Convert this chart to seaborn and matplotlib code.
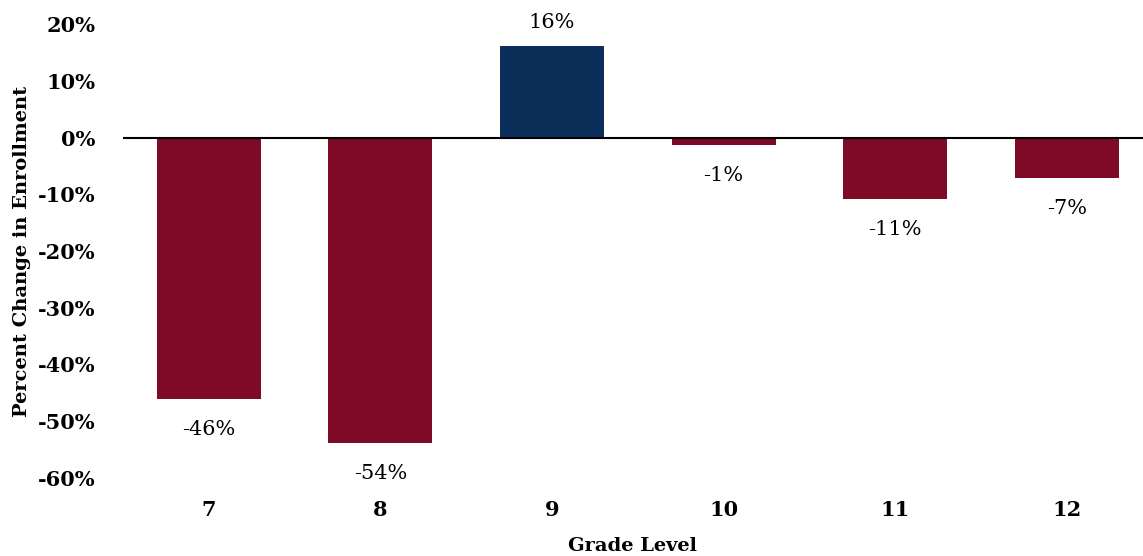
import pandas as pd
import matplotlib.pyplot as plt
import seaborn as sns
from matplotlib.ticker import PercentFormatter

grades = ['7', '8', '9', '10', '11', '12']
pct_change = [-46.1, -53.8, 16.2, -1.3, -10.8, -7.2]
labels = ['-46%', '-54%', '16%', '-1%', '-11%', '-7%']

red = '#7E0A25'
navy = '#0C2F5A'
bar_colors = [navy if v > 0 else red for v in pct_change]

df = pd.DataFrame({'Grade Level': grades, 'Change': pct_change})

sns.set_style('white')
plt.rcParams['font.family'] = ['DejaVu Serif']
plt.rcParams['axes.unicode_minus'] = False
plt.rcParams['text.color'] = 'black'
plt.rcParams['xtick.color'] = 'black'
plt.rcParams['ytick.color'] = 'black'
plt.rcParams['axes.labelcolor'] = 'black'

fig = plt.figure(figsize=(11.43, 5.56), dpi=100)
ax = fig.add_axes([0.1076, 0.1403, 0.8924, 0.8165])

sns.barplot(data=df, x='Grade Level', y='Change', hue='Grade Level',
            palette=bar_colors, legend=False, width=0.606, saturation=1,
            linewidth=0, ax=ax)

# labels sit a bit further from the bar end on the negative side
for container, lab, v in zip(ax.containers, labels, pct_change):
    ax.bar_label(container, labels=[lab], padding=10 if v > 0 else 15,
                 fontsize=15, color='black')

ax.set_xlim(-0.5, 5.444)
ax.set_ylim(-60, 20)
ax.set_yticks(range(-60, 21, 10))
ax.yaxis.set_major_formatter(PercentFormatter(decimals=0))
ax.axhline(0, color='black', lw=1.5)
sns.despine(ax=ax, left=True, bottom=True)

ax.tick_params(axis='both', length=0, labelsize=15)
ax.tick_params(axis='x', pad=16)
ax.tick_params(axis='y', pad=20)
for t in ax.get_xticklabels() + ax.get_yticklabels():
    t.set_fontweight('bold')

ax.set_xlabel('Grade Level', fontsize=14, fontweight='bold', labelpad=12)
ax.set_ylabel('Percent Change in Enrollment', fontsize=14, fontweight='bold',
              labelpad=5)

plt.savefig('out.png', dpi=100)
plt.close()
